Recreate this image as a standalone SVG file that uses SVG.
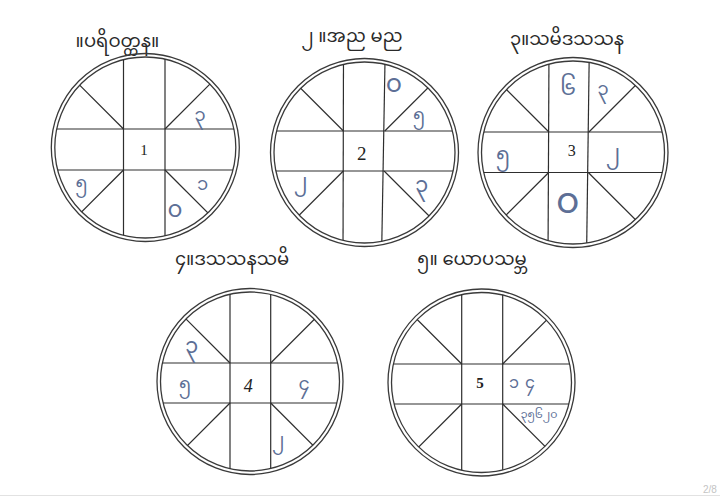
<svg xmlns="http://www.w3.org/2000/svg" width="720" height="497" viewBox="0 0 720 497">
<style>
.ring{fill:none;stroke:#3a3a3a;stroke-width:1.3}
.grid line{stroke:#2e2e2e;stroke-width:1.2}
.title{font-family:'Noto Sans Myanmar','Padauk','Myanmar Text','Noto Sans',sans-serif;font-size:18px;fill:#2a2a2a;text-anchor:middle}
.hd{font-family:'Noto Sans Myanmar','Padauk','Myanmar Text','Noto Sans',sans-serif;font-size:18px;fill:#5d6f96;text-anchor:middle;dominant-baseline:central}
.num{font-family:'Liberation Serif',serif;font-size:16px;fill:#222;text-anchor:middle;dominant-baseline:central}
</style>
<defs>
<clipPath id="k1"><circle cx="145.3" cy="147.5" r="90.5"/></clipPath>
<clipPath id="k2"><circle cx="364.5" cy="152.5" r="90.5"/></clipPath>
<clipPath id="k3"><circle cx="573" cy="152.5" r="91.5"/></clipPath>
<clipPath id="k4"><circle cx="250" cy="381.5" r="89.5"/></clipPath>
<clipPath id="k5"><circle cx="481.5" cy="382.5" r="90"/></clipPath>
</defs>
<rect width="720" height="497" fill="#ffffff"/>

<g id="circle-1">
<text class="title" x="117.5" y="47">။ပရိဝတ္တန။</text>
<circle class="ring" cx="145.3" cy="147.5" r="94"/>
<circle class="ring" cx="145.3" cy="147.5" r="90.5"/>
<g class="grid" clip-path="url(#k1)">
<line x1="123.5" y1="40" x2="123.5" y2="260"/>
<line x1="165" y1="40" x2="165" y2="260"/>
<line x1="40" y1="129" x2="250" y2="129"/>
<line x1="40" y1="170" x2="250" y2="170"/>
<line x1="123.5" y1="129" x2="23.5" y2="29"/>
<line x1="165" y1="129" x2="265" y2="29"/>
<line x1="123.5" y1="170" x2="23.5" y2="270"/>
<line x1="165" y1="170" x2="265" y2="270"/>
</g>
<text class="num" x="144" y="150" style="font-size:15px">1</text>
<text class="hd" x="200" y="116.7">၃</text>
<text class="hd" x="81.7" y="184">၅</text>
<text class="hd" x="202.7" y="185.7">၁</text>
<text class="hd" x="175" y="212.3" style="font-size:23px">၀</text>
</g>

<g id="circle-2">
<text class="title" x="352" y="42">၂ ။အည မည</text>
<circle class="ring" cx="364.5" cy="152.5" r="94"/>
<circle class="ring" cx="364.5" cy="152.5" r="90.5"/>
<g class="grid" clip-path="url(#k2)">
<line x1="343.5" y1="50" x2="343" y2="260"/>
<line x1="385.2" y1="50" x2="381.5" y2="260"/>
<line x1="260" y1="131" x2="470" y2="131"/>
<line x1="260" y1="171" x2="470" y2="171"/>
<line x1="343.4" y1="131" x2="243.4" y2="31"/>
<line x1="384.8" y1="131" x2="484.8" y2="31"/>
<line x1="343.3" y1="171" x2="243.3" y2="271"/>
<line x1="384.1" y1="171" x2="484.1" y2="271"/>
</g>
<text class="num" x="361.7" y="153.3" style="font-size:19px">2</text>
<text class="hd" x="394" y="86.7" style="font-size:25px">၀</text>
<text class="hd" x="419" y="116.7">၅</text>
<text class="hd" x="300.7" y="183" style="font-size:20px">၂</text>
<text class="hd" x="421.7" y="186.7" style="font-size:21px">၃</text>
</g>

<g id="circle-3">
<text class="title" x="567" y="45">၃။သမိဒသသန</text>
<circle class="ring" cx="573" cy="152.5" r="95"/>
<circle class="ring" cx="573" cy="152.5" r="91.5"/>
<g class="grid" clip-path="url(#k3)">
<line x1="549" y1="50" x2="548" y2="260"/>
<line x1="589.3" y1="50" x2="586.5" y2="260"/>
<line x1="470" y1="132" x2="680" y2="132"/>
<line x1="470" y1="172.5" x2="680" y2="172.5"/>
<line x1="548.9" y1="132" x2="448.9" y2="32"/>
<line x1="588.9" y1="132" x2="688.9" y2="32"/>
<line x1="548.7" y1="172.5" x2="448.7" y2="272.5"/>
<line x1="588.3" y1="172.5" x2="688.3" y2="272.5"/>
</g>
<text class="num" x="571.7" y="150" style="font-size:16px">3</text>
<text class="hd" x="568" y="90" style="font-size:22px">၆</text>
<text class="hd" x="603" y="90">၃</text>
<text class="hd" x="503" y="156.7" style="font-size:21px">၅</text>
<text class="hd" x="613" y="155" style="font-size:21px">၂</text>
<text class="hd" x="567.7" y="204" style="font-size:36px">၀</text>
</g>

<g id="circle-4">
<text class="title" x="232" y="265">၄။ဒသသနသမိ</text>
<circle class="ring" cx="250" cy="381.5" r="93"/>
<circle class="ring" cx="250" cy="381.5" r="89.5"/>
<g class="grid" clip-path="url(#k4)">
<line x1="230" y1="280" x2="230" y2="490"/>
<line x1="270.7" y1="280" x2="270.7" y2="490"/>
<line x1="150" y1="363" x2="350" y2="363"/>
<line x1="150" y1="403" x2="350" y2="403"/>
<line x1="230" y1="363" x2="130" y2="263"/>
<line x1="270.7" y1="363" x2="370.7" y2="263"/>
<line x1="230" y1="403" x2="130" y2="503"/>
<line x1="270.7" y1="403" x2="370.7" y2="503"/>
</g>
<text class="num" x="248.3" y="386" style="font-size:18px;font-style:italic">4</text>
<text class="hd" x="191.7" y="348" style="font-size:21px">၃</text>
<text class="hd" x="185" y="385">၅</text>
<text class="hd" x="304" y="385">၄</text>
<text class="hd" x="278.3" y="441.7">၂</text>
</g>

<g id="circle-5">
<text class="title" x="472" y="265">၅။ ယောပသမ္ဘ</text>
<circle class="ring" cx="481.5" cy="382.5" r="93.5"/>
<circle class="ring" cx="481.5" cy="382.5" r="90"/>
<g class="grid" clip-path="url(#k5)">
<line x1="461.7" y1="280" x2="461.7" y2="490"/>
<line x1="502.7" y1="280" x2="502.7" y2="490"/>
<line x1="380" y1="364" x2="590" y2="364"/>
<line x1="380" y1="404" x2="590" y2="404"/>
<line x1="461.7" y1="364" x2="361.7" y2="264"/>
<line x1="502.7" y1="364" x2="602.7" y2="264"/>
<line x1="461.7" y1="404" x2="361.7" y2="504"/>
<line x1="502.7" y1="404" x2="602.7" y2="504"/>
</g>
<text class="num" x="480" y="383.3" style="font-size:15px;font-weight:bold">5</text>
<text class="hd" x="514" y="384" style="font-size:16px">၁</text>
<text class="hd" x="530" y="384" style="font-size:16px">၄</text>
<text class="hd" x="539" y="415" style="font-size:11px">၃၅၆၂၀</text>
</g>

<text x="703" y="493" font-family="'Liberation Sans',sans-serif" font-size="10" fill="#c4c4c4">2/8</text>
<line x1="0" y1="495.5" x2="720" y2="495.5" stroke="#e2e2e2" stroke-width="1"/>
</svg>
